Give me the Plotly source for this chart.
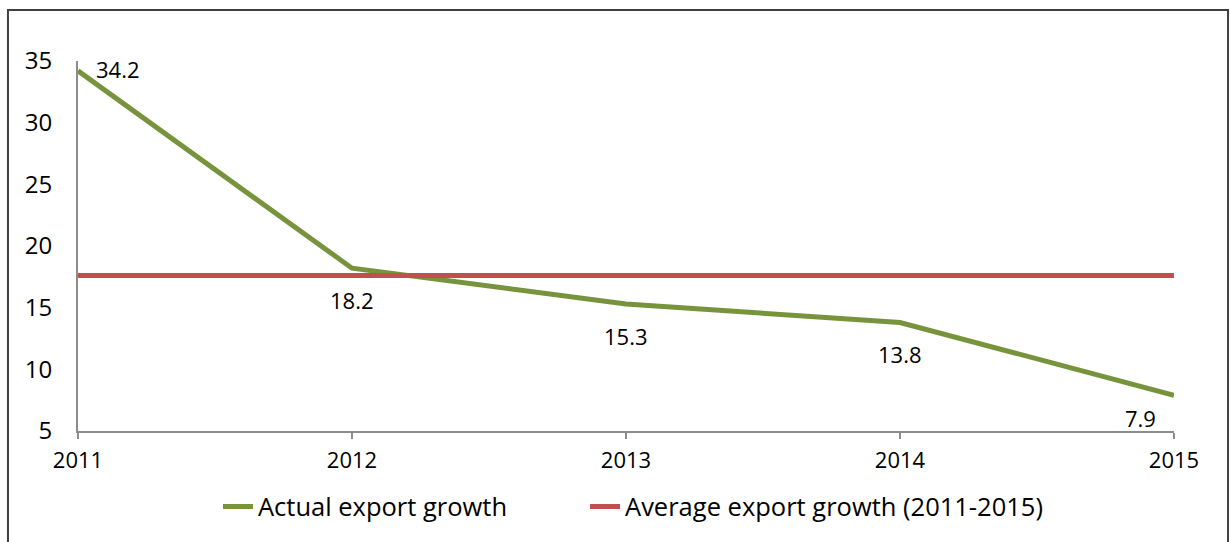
import plotly.graph_objects as go

# Export growth (%) by year
years = [2011, 2012, 2013, 2014, 2015]
actual_growth = [34.2, 18.2, 15.3, 13.8, 7.9]
average_growth = [17.6, 17.6, 17.6, 17.6, 17.6]

series_names = ["Actual export growth", "Average export growth (2011-2015)"]
y_ticks = [5, 10, 15, 20, 25, 30, 35]

GREEN = "#77933C"
RED = "#C0504D"
AXIS = "#8C8C8C"
FONT = "Open Sans"

fig = go.Figure()
fig.add_trace(go.Scatter(
    x=years, y=actual_growth, mode="lines", name=series_names[0],
    line=dict(color=GREEN, width=5), hoverinfo="x+y", legend="legend",
))
fig.add_trace(go.Scatter(
    x=years, y=average_growth, mode="lines", name=series_names[1],
    line=dict(color=RED, width=5), hoverinfo="x+y", legend="legend2",
))

# value labels: first point to the right, last point below-left, others below
label_shifts = [(40, 2), (0, -32), (0, -32), (0, -32), (-34, -23)]
for x, y, (dx, dy) in zip(years, actual_growth, label_shifts):
    fig.add_annotation(
        x=x, y=y, text=f"{y:.1f}", showarrow=False,
        xshift=dx, yshift=dy,
        font=dict(family=FONT, size=22, color="#000000"),
    )

# chart-area frame
fig.add_shape(
    type="rect", xref="paper", yref="paper",
    x0=-0.0639, x1=1.0493, y0=-0.31, y1=1.138,
    line=dict(color="#404040", width=2), fillcolor="rgba(0,0,0,0)",
    layer="below",
)

legend_style = dict(
    orientation="h", xanchor="left", y=-0.205, yanchor="middle",
    font=dict(family=FONT, size=25.5, color="#000000"),
    bgcolor="rgba(0,0,0,0)", borderwidth=0, itemwidth=30,
)

fig.update_layout(
    width=1230, height=542,
    margin=dict(l=78, r=56, t=61, b=111),
    paper_bgcolor="white", plot_bgcolor="white",
    font=dict(family=FONT, size=22, color="#000000"),
    showlegend=True,
    legend=dict(x=0.1277, **legend_style),
    legend2=dict(x=0.4626, **legend_style),
    xaxis=dict(
        range=[2011, 2015], tickmode="array", tickvals=years,
        ticktext=[str(y) for y in years],
        showline=True, linecolor=AXIS, linewidth=2,
        ticks="outside", ticklen=6, tickwidth=2, tickcolor=AXIS,
        showgrid=False, zeroline=False, ticklabelstandoff=3,
        tickfont=dict(family=FONT, size=22),
    ),
    yaxis=dict(
        range=[5, 35], tickmode="array", tickvals=y_ticks,
        showline=True, linecolor=AXIS, linewidth=2,
        ticks="", showgrid=False, zeroline=False, ticklabelstandoff=19,
        tickfont=dict(family=FONT, size=24),
    ),
)

fig.write_html("out.html")
